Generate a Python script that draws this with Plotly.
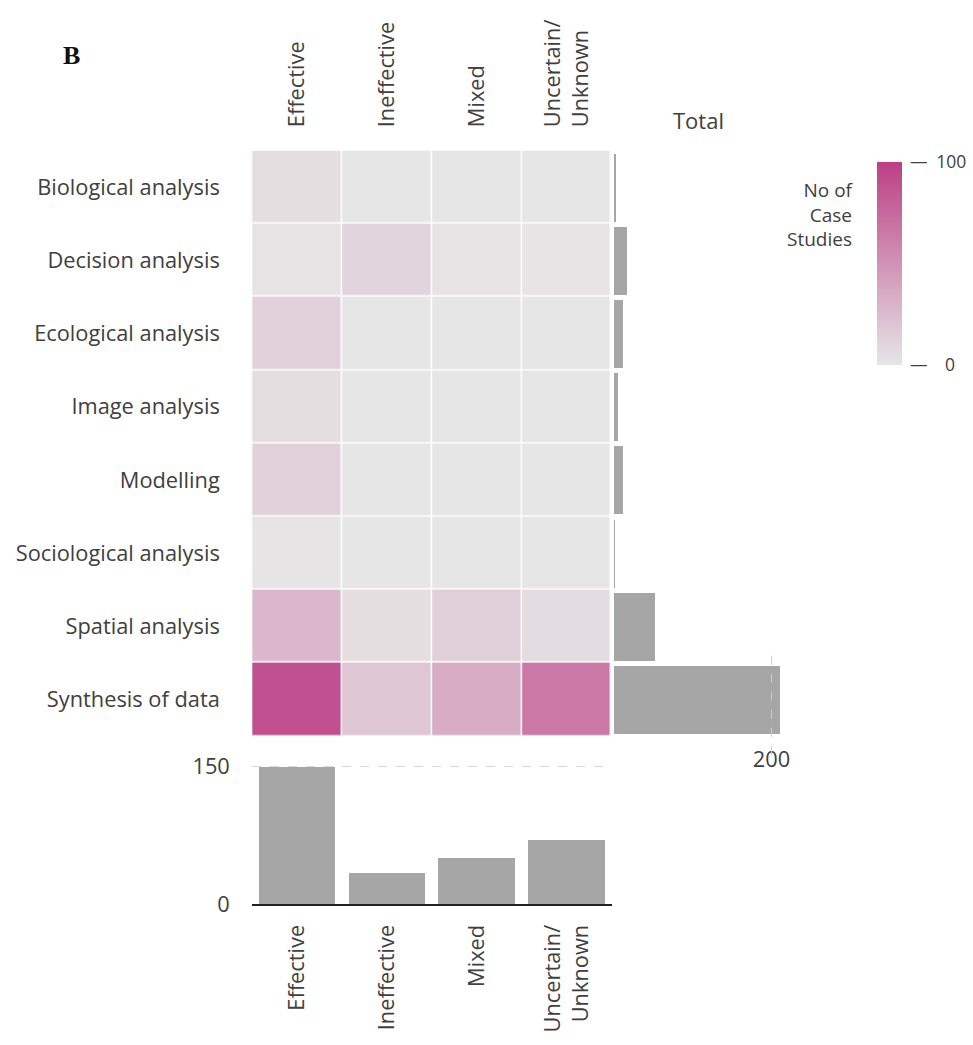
import plotly.graph_objects as go

methods = ["Biological analysis", "Decision analysis", "Ecological analysis", "Image analysis",
           "Modelling", "Sociological analysis", "Spatial analysis", "Synthesis of data"]
outcomes = ["Effective", "Ineffective", "Mixed", "Uncertain/<br>Unknown"]

# number of case studies per method (rows) x outcome (columns)
effective = [5, 2, 12, 5, 12, 1, 28, 90]
ineffective = [0, 11, 0, 0, 0, 0, 5, 19]
mixed = [0, 2, 0, 0, 0, 0, 14, 35]
uncertain = [0, 1, 0, 0, 0, 0, 6, 66]

row_totals = [3, 16, 12, 5, 12, 1, 52, 210]
col_totals = [150, 34, 50, 70]

z = [[effective[i], ineffective[i], mixed[i], uncertain[i]] for i in range(len(methods))]

W, H = 973, 1045
def px(x):
    return x / W
def py(y):
    return 1 - y / H

font_fam = "Open Sans, sans-serif"
txt_col = "#404040"
tickfont = dict(family=font_fam, size=21.8, color=txt_col)

fig = go.Figure()
fig.add_trace(go.Heatmap(
    z=z, x=outcomes, y=methods, xaxis="x", yaxis="y", zmin=0, zmax=100,
    colorscale=[[0, "#e6e6e6"], [1, "#bc3f85"]], xgap=1.5, ygap=1.5,
    colorbar=dict(x=px(883), xanchor="left", y=py(155), yanchor="top",
                  len=py(155) - py(363), lenmode="fraction", thickness=25, outlinewidth=0,
                  tickvals=[0, 100], ticktext=["\u2014\u2002\u20020", "\u2014\u2002100"],
                  ticks="outside", ticklen=5, tickcolor="rgba(0,0,0,0)",
                  tickfont=dict(family=font_fam, size=17.5, color=txt_col), xpad=0, ypad=0),
))
fig.add_trace(go.Bar(x=row_totals, y=methods, orientation="h", xaxis="x2", yaxis="y2",
                     marker=dict(color="#a6a6a6", line=dict(width=0)), width=0.93, showlegend=False))
fig.add_trace(go.Bar(x=outcomes, y=col_totals, xaxis="x3", yaxis="y3",
                     marker=dict(color="#a6a6a6", line=dict(width=0)), width=0.85, showlegend=False))

fig.update_layout(
    width=W, height=H, margin=dict(l=0, r=0, t=0, b=0),
    paper_bgcolor="white", plot_bgcolor="white",
    xaxis=dict(domain=[px(254), px(616)], side="top", tickangle=-90, tickfont=tickfont,
               ticks="outside", ticklen=18, tickcolor="rgba(0,0,0,0)",
               showgrid=False, zeroline=False, showline=False, anchor="y"),
    yaxis=dict(domain=[py(743), py(143)], autorange="reversed", tickfont=tickfont,
               ticks="outside", ticklen=27, tickcolor="rgba(0,0,0,0)",
               showgrid=False, zeroline=False, showline=False, anchor="x"),
    xaxis2=dict(domain=[px(618), px(789)], range=[0, 215], tickvals=[200], tickfont=tickfont,
                ticks="outside", ticklen=4, tickcolor="rgba(0,0,0,0)",
                showgrid=False, zeroline=False, showline=False, anchor="y2"),
    yaxis2=dict(domain=[py(743), py(143)], autorange="reversed", categoryorder="array",
                categoryarray=methods, showticklabels=False, showgrid=False,
                zeroline=False, showline=False, anchor="x2"),
    xaxis3=dict(domain=[px(254), px(616)], categoryorder="array", categoryarray=outcomes,
                tickangle=-90, tickfont=tickfont, ticks="outside", ticklen=10,
                tickcolor="rgba(0,0,0,0)", showline=True, linecolor="#222222", linewidth=2,
                showgrid=False, zeroline=False, anchor="y3"),
    yaxis3=dict(domain=[py(915), py(769.3)], range=[0, 155], tickvals=[0, 150],
                tickfont=tickfont, ticks="outside", ticklen=17, tickcolor="rgba(0,0,0,0)",
                showgrid=True, gridcolor="#d9d9d9", griddash="dash", gridwidth=1,
                zeroline=False, showline=False, anchor="x3"),
    bargap=0,
    shapes=[dict(type="line", xref="x2", x0=200, x1=200, yref="paper", y0=py(762), y1=py(658),
                 line=dict(color="#cccccc", width=1, dash="dash"), layer="above")],
    annotations=[
        dict(text="<b>B</b>", x=px(61), y=py(46), xref="paper", yref="paper",
             xanchor="left", yanchor="middle", showarrow=False,
             font=dict(family="Liberation Serif, serif", size=26, color="#111111")),
        dict(text="Total", x=px(704), y=py(112), xref="paper", yref="paper",
             xanchor="center", yanchor="middle", showarrow=False,
             font=dict(family=font_fam, size=22, color=txt_col)),
        dict(text="No of<br>Case<br>Studies", x=px(862), y=py(209), xref="paper", yref="paper",
             xanchor="right", yanchor="middle", align="right", showarrow=False,
             font=dict(family=font_fam, size=19, color=txt_col)),
    ],
)

fig.write_html("out.html", config={"displayModeBar": False},
               post_script="document.body.style.margin='0px';document.body.style.overflow='hidden';")
